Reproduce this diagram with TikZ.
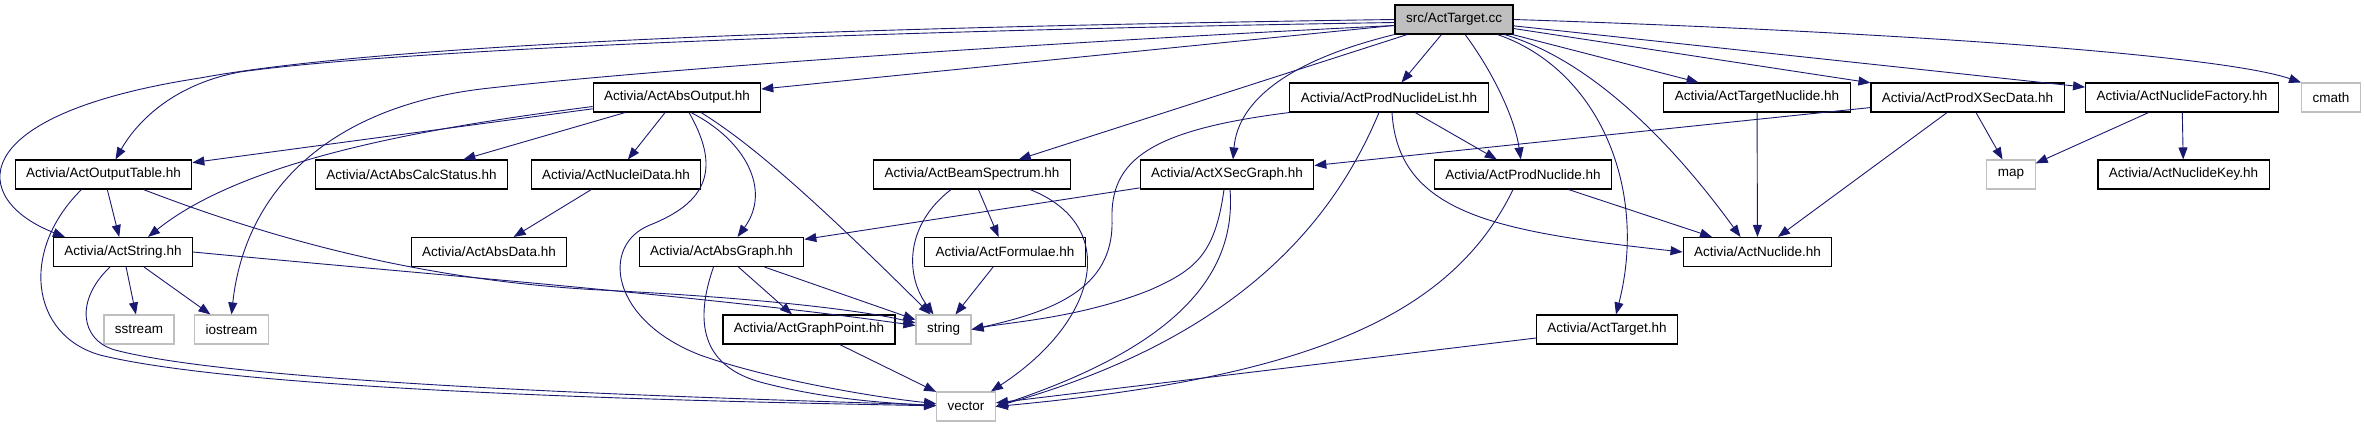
\documentclass[tikz,border=0pt]{standalone}
\usepackage{fontspec}
\setmainfont{Liberation Sans}
\usetikzlibrary{arrows.meta}
\definecolor{edgeblue}{HTML}{191970}
\definecolor{sysgray}{HTML}{BFBFBF}

\begin{document}
\begin{tikzpicture}[x=1pt, y=-1pt, >={Triangle[length=12pt,width=9pt]},
    font=\fontsize{13.5}{16}\selectfont]
  \tikzstyle{hh}=[draw, line width=1.1pt, minimum height=29pt, inner xsep=11pt, inner ysep=0pt]
  \tikzstyle{sys}=[hh, draw=sysgray]
  \tikzstyle{dep}=[->, edgeblue, line width=0.9pt]

  \useasboundingbox (0,0) rectangle (2364,427);

  \node[hh, fill=sysgray] (src) at (1454,19.5) {src/ActTarget.cc};
  % row 2
  \node[hh] (AbsOutput) at (677,97.5) {Activia/ActAbsOutput.hh};
  \node[hh] (ProdNuclideList) at (1389,97.5) {Activia/ActProdNuclideList.hh};
  \node[hh] (TargetNuclide) at (1757,97.5) {Activia/ActTargetNuclide.hh};
  \node[hh] (ProdXSecData) at (1967.5,97.5) {Activia/ActProdXSecData.hh};
  \node[hh] (NuclideFactory) at (2182,97.5) {Activia/ActNuclideFactory.hh};
  \node[sys] (cmath) at (2331,97.5) {cmath};
  % row 3
  \node[hh] (OutputTable) at (103.5,174.5) {Activia/ActOutputTable.hh};
  \node[hh] (AbsCalcStatus) at (411.5,174.5) {Activia/ActAbsCalcStatus.hh};
  \node[hh] (NucleiData) at (616,174.5) {Activia/ActNucleiData.hh};
  \node[hh] (BeamSpectrum) at (972,174.5) {Activia/ActBeamSpectrum.hh};
  \node[hh] (XSecGraph) at (1227,174.5) {Activia/ActXSecGraph.hh};
  \node[hh] (ProdNuclide) at (1523,174.5) {Activia/ActProdNuclide.hh};
  \node[sys] (map) at (2011,174.5) {map};
  \node[hh] (NuclideKey) at (2183.5,174.5) {Activia/ActNuclideKey.hh};
  % row 4
  \node[hh] (ActString) at (123,252) {Activia/ActString.hh};
  \node[hh] (AbsData) at (489,252) {Activia/ActAbsData.hh};
  \node[hh] (AbsGraph) at (721.5,252) {Activia/ActAbsGraph.hh};
  \node[hh] (Formulae) at (1005,252) {Activia/ActFormulae.hh};
  \node[hh] (Nuclide) at (1757.5,252) {Activia/ActNuclide.hh};
  % row 5
  \node[sys] (sstream) at (139,329.5) {sstream};
  \node[sys] (iostream) at (231.5,329.5) {iostream};
  \node[hh] (GraphPoint) at (809,329.5) {Activia/ActGraphPoint.hh};
  \node[sys] (string) at (943.5,329.5) {string};
  \node[hh] (TargetHH) at (1607,329.5) {Activia/ActTarget.hh};
  % row 6
  \node[sys] (vector) at (966,406.5) {vector};

  % src/ActTarget.cc
  \draw[dep] (src.west) .. controls (800,28) and (380,45) .. (200,78) .. controls (-40,115) and (-30,200) .. ([xshift=12pt]ActString.north west);
  \draw[dep] ([yshift=-3pt]src.west) .. controls (800,32) and (380,52) .. (240,72) .. controls (170,85) and (135,125) .. ([xshift=12pt]OutputTable.north);
  \draw[dep] ([yshift=-6pt]src.west) .. controls (1000,45) and (650,70) .. (490,88) .. controls (330,105) and (245,190) .. (iostream.north);
  \draw[dep] (src) -- (AbsOutput);
  \draw[dep] (src) -- (BeamSpectrum);
  \draw[dep] (src.south west) .. controls (1290,60) and (1238,100) .. ([xshift=6pt]XSecGraph.north);
  \draw[dep] (src) -- (ProdNuclideList);
  \draw[dep] (src) .. controls (1495,75) and (1515,120) .. (ProdNuclide);
  \draw[dep] (src) .. controls (1600,70) and (1648,190) .. ([xshift=9pt]TargetHH.north);
  \draw[dep] (src) .. controls (1590,60) and (1670,140) .. ([xshift=-17pt]Nuclide.north);
  \draw[dep] (src) -- (TargetNuclide);
  \draw[dep] (src) -- (ProdXSecData);
  \draw[dep] (src) -- (NuclideFactory);
  \draw[dep] (src.east) .. controls (1900,32) and (2220,55) .. (cmath.north west);

  % ActAbsOutput.hh
  \draw[dep] (AbsOutput) -- (OutputTable);
  \draw[dep] ([yshift=-9pt]AbsOutput.west) .. controls (450,125) and (250,155) .. ([xshift=25pt]ActString.north);
  \draw[dep] (AbsOutput) -- (AbsCalcStatus);
  \draw[dep] (AbsOutput) -- (NucleiData);
  \draw[dep] ([xshift=14pt]AbsOutput.south) .. controls (745,140) and (772,190) .. ([xshift=16pt]AbsGraph.north);
  \draw[dep] ([xshift=12pt]AbsOutput.south) .. controls (725,175) and (700,205) .. (650,225) .. controls (600,245) and (610,320) .. (700,355) .. controls (770,380) and (880,398) .. (vector);
  \draw[dep] (AbsOutput) .. controls (745,140) and (800,185) .. ([xshift=-13pt]string.north);

  % ActOutputTable.hh
  \draw[dep] (OutputTable) -- (ActString);
  \draw[dep] ([xshift=-22pt]OutputTable.south) .. controls (20,250) and (30,335) .. (100,355) .. controls (260,395) and (800,403) .. (vector);
  \draw[dep] ([xshift=40pt]OutputTable.south) .. controls (300,250) and (450,282) .. (600,290) .. controls (760,298) and (860,310) .. (string);

  % ActString.hh
  \draw[dep] (ActString) -- (sstream);
  \draw[dep] (ActString) -- (iostream);
  \draw[dep] (ActString.east) .. controls (400,272) and (700,295) .. (string);
  \draw[dep] ([xshift=-13pt]ActString.south) .. controls (75,300) and (80,340) .. (115,350) .. controls (260,388) and (800,400) .. (vector);

  \draw[dep] (NucleiData) -- (AbsData);

  % ActAbsGraph.hh
  \draw[dep] (AbsGraph) -- (GraphPoint);
  \draw[dep] (AbsGraph) -- (string);
  \draw[dep] ([xshift=-8pt]AbsGraph.south) .. controls (695,320) and (700,365) .. (760,382) .. controls (820,398) and (880,403) .. (vector);
  \draw[dep] (GraphPoint) -- (vector);

  % ActBeamSpectrum.hh
  \draw[dep] ([xshift=-21pt]BeamSpectrum.south) .. controls (905,225) and (905,275) .. ([xshift=-10pt]string.north);
  \draw[dep] (BeamSpectrum) -- (Formulae);
  \draw[dep] ([xshift=58pt]BeamSpectrum.south) .. controls (1120,225) and (1100,320) .. ([xshift=-5pt]vector.north east);
  \draw[dep] (Formulae) -- (string);

  % ActXSecGraph.hh
  \draw[dep] (XSecGraph) -- (AbsGraph);
  \draw[dep] ([xshift=-3pt]XSecGraph.south) .. controls (1215,255) and (1195,270) .. (1150,290) .. controls (1080,318) and (1010,322) .. (string.east);
  \draw[dep] ([xshift=3pt]XSecGraph.south) .. controls (1238,290) and (1150,355) .. (vector.east);

  % ActProdNuclideList.hh
  \draw[dep] (ProdNuclideList.south west) .. controls (1150,130) and (1110,160) .. (1112,220) .. controls (1114,290) and (1050,312) .. (string.east);
  \draw[dep] ([xshift=-10pt]ProdNuclideList.south) .. controls (1330,230) and (1230,340) .. (vector.east);
  \draw[dep] (ProdNuclideList) -- (ProdNuclide);
  \draw[dep] ([xshift=3pt]ProdNuclideList.south) .. controls (1398,215) and (1500,232) .. (Nuclide.west);

  % ActProdNuclide.hh, ActTarget.hh
  \draw[dep] (ProdNuclide) -- (Nuclide);
  \draw[dep] ([xshift=-10pt]ProdNuclide.south) .. controls (1450,320) and (1300,378) .. (vector.east);
  \draw[dep] (TargetHH) -- (vector);

  % right part
  \draw[dep] (TargetNuclide) -- (Nuclide);
  \draw[dep] (ProdXSecData) -- (XSecGraph);
  \draw[dep] (ProdXSecData) -- (Nuclide);
  \draw[dep] (ProdXSecData) -- (map);
  \draw[dep] (NuclideFactory) -- (map);
  \draw[dep] (NuclideFactory) -- (NuclideKey);
\end{tikzpicture}
\end{document}
